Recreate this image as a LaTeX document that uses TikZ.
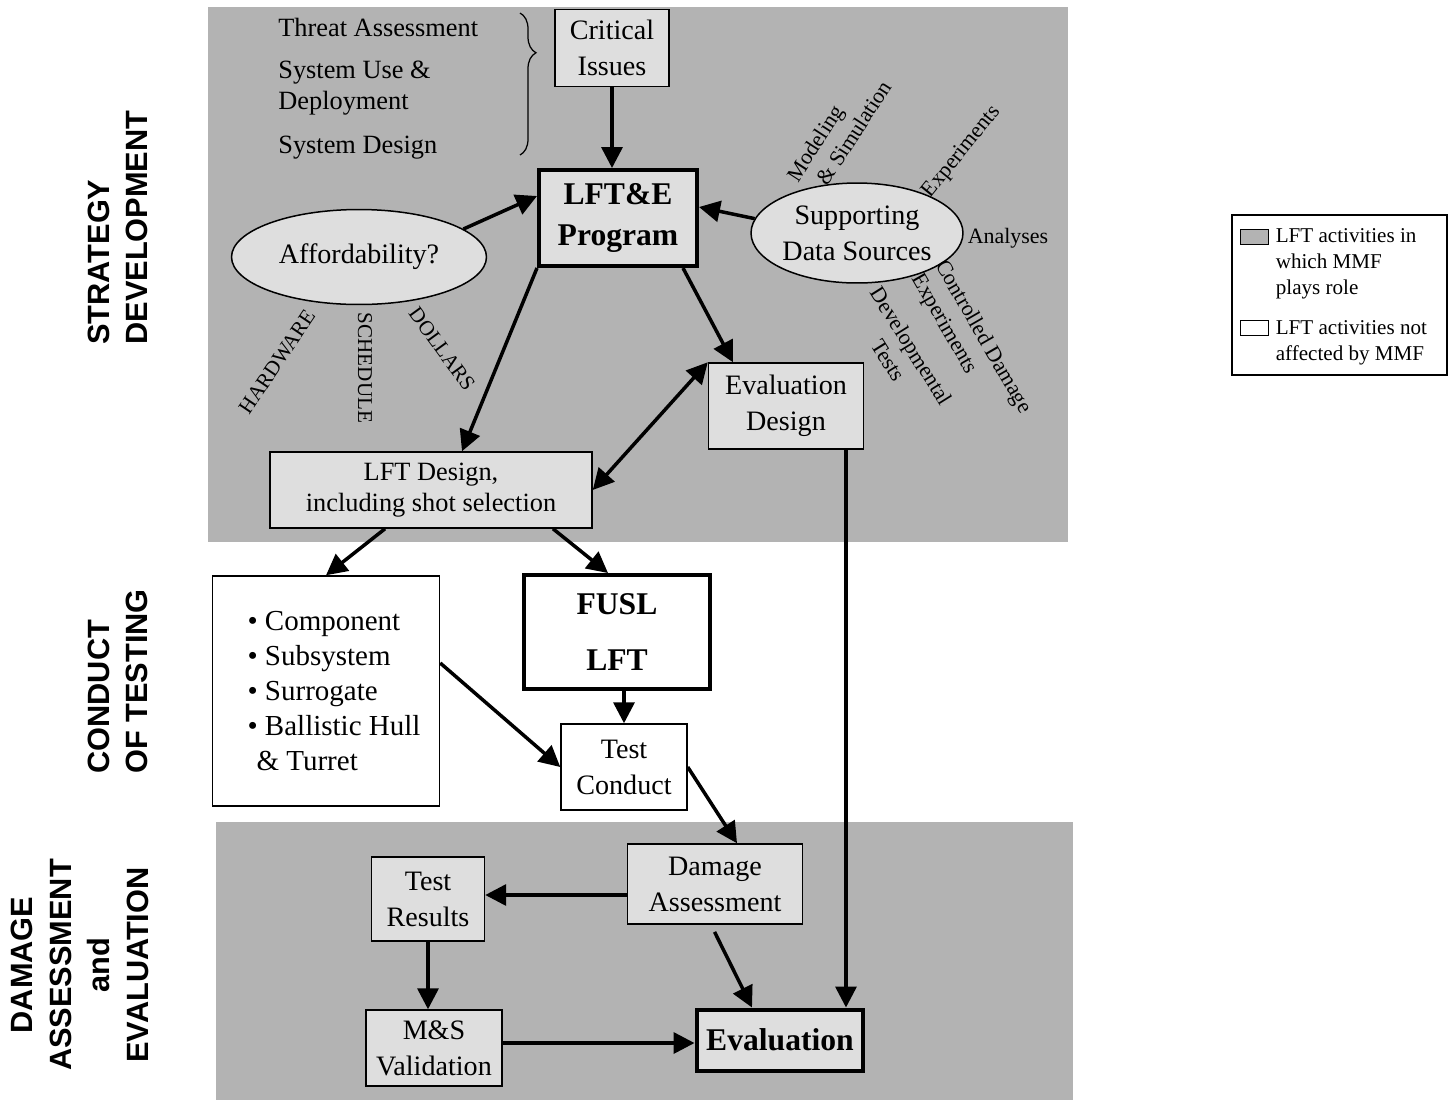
\documentclass[tikz,border=0pt]{standalone}
\usepackage{fontspec}
\setmainfont{Liberation Serif}
\newfontfamily\phasefont{Liberation Sans}
\usetikzlibrary{positioning,shapes.geometric,arrows.meta,decorations.pathreplacing}
\definecolor{panel}{RGB}{179,179,179}
\definecolor{dotfill}{RGB}{222,222,222}
\tikzset{
  box/.style = {draw = black, fill = dotfill, line width = 0.03cm, inner sep = 0pt, align = center, font = \fontsize{16}{20.5}\selectfont},
  plainbox/.style = {box, fill = white},
  heavybox/.style = {box, line width = 0.08cm, font = \fontsize{18}{23}\selectfont\bfseries},
  oval/.style = {box, ellipse},
  arrow/.style = {line width = 0.07cm, -{Triangle[length = 0.42cm, width = 0.42cm]}},
  ray/.style = {font = \fontsize{12.5}{15.4}\selectfont, inner sep = 0pt},
  capsray/.style = {font = \fontsize{12}{14}\selectfont, inner sep = 0pt},
  issue/.style = {font = \fontsize{15}{18}\selectfont, anchor = west, inner sep = 0pt},
  phase/.style = {font = \phasefont\bfseries\fontsize{17.5}{22}\selectfont, rotate = 90, inner sep = 0pt},
  swatch/.style = {draw = black, line width = 0.02cm, minimum width = 0.56cm, minimum height = 0.3cm, inner sep = 0pt},
  legtext/.style = {font = \fontsize{12}{14.8}\selectfont, align = left, inner sep = 0pt}
}
\begin{document}
\begin{tikzpicture}[x = 0.02cm, y = -0.02cm]
\useasboundingbox (0,0) rectangle (1450,1103);
\fill[panel] (208,7) rectangle (1068,542);
\fill[panel] (216,822) rectangle (1073,1100);
\node[phase, anchor = west, align = left] (strat) at (118,345) {STRATEGY\\DEVELOPMENT};
\node[phase, anchor = west, align = left] (cond) at (118,774) {CONDUCT\\OF TESTING};
\node[phase, align = center] (dmg) at (80,965) {DAMAGE\\ASSESSMENT\\and\\EVALUATION};
\node[issue] (threat) at (278,27) {Threat Assessment};
\node[issue, align = left] (use) at (278,88) {System Use \&\\Deployment};
\node[issue] (sysdes) at (278,148) {System Design};
\draw[decorate, decoration = {brace, amplitude = 0.32cm, aspect = 0.28}, line width = 0.025cm] (520,13) -- (520,155);
\node[box, minimum width = 2.28cm, minimum height = 1.54cm] (crit) at (612,48) {Critical\\Issues};
\node[heavybox, minimum width = 3.16cm, minimum height = 1.92cm] (prog) at (618,218) {LFT\&E\\Program};
\node[oval, minimum width = 4.24cm, minimum height = 2cm] (supp) at (857,233) {Supporting\\Data Sources};
\node[oval, minimum width = 5.1cm, minimum height = 1.9cm] (afford) at (359,257) {Affordability?};
\node[box, minimum width = 3.1cm, minimum height = 1.72cm] (evdes) at (786,406) {Evaluation\\Design};
\node[box, minimum width = 6.44cm, minimum height = 1.52cm, font = \fontsize{15}{17.6}\selectfont] (lftdes) at (431,490) {LFT Design,\\including shot selection};
\node[plainbox, minimum width = 4.54cm, minimum height = 4.6cm, align = left, font = \fontsize{16.5}{20}\selectfont] (levels) at (326,691) {• Component\\• Subsystem\\• Surrogate\\• Ballistic Hull\kern-0.32cm\\\hspace*{0.18cm}\& Turret};
\node[heavybox, fill = white, minimum width = 3.72cm, minimum height = 2.28cm] (fusl) at (617,632) {FUSL\\[0.33cm]LFT};
\node[plainbox, minimum width = 2.52cm, minimum height = 1.72cm] (tcond) at (624,767) {Test\\Conduct};
\node[box, minimum width = 3.5cm, minimum height = 1.6cm] (dassess) at (715,884) {Damage\\Assessment};
\node[box, minimum width = 2.26cm, minimum height = 1.68cm] (tres) at (428,899) {Test\\Results};
\node[box, minimum width = 2.72cm, minimum height = 1.52cm] (msval) at (434,1048) {M\&S\\Validation};
\node[heavybox, minimum width = 3.34cm, minimum height = 1.22cm] (eval) at (780,1040) {Evaluation};
\node[ray, rotate = 57, align = left] (model) at (839,131) {Modeling\\\hspace*{0.26cm}\& Simulation};
\node[ray, rotate = 51] (exper) at (962,152) {Experiments};
\node[ray] (anal) at (1008,238) {Analyses};
\node[ray, rotate = -60, align = left] (ctrl) at (971,344) {Controlled Damage\\Experiments};
\node[ray, rotate = -58, align = center] (devt) at (900,353) {Developmental\\Tests};
\node[capsray, rotate = 56] (hw) at (277,362) {HARDWARE};
\node[capsray, rotate = -90] (sched) at (365,368) {SCHEDULE};
\node[capsray, rotate = -54] (dol) at (442,349) {DOLLARS};
\draw[arrow] (crit.south) -- (crit.south |- prog.north);
\draw[arrow] (afford.15) -- ([yshift = 0.44cm]prog.west);
\draw[arrow] (supp.172) -- ([yshift = 0.22cm]prog.east);
\draw[arrow] (prog.south west) -- ([xshift = 0.62cm]lftdes.north);
\draw[arrow] ([xshift = -0.32cm]prog.south east) -- ([xshift = -1.06cm]evdes.north);
\draw[arrow, {Triangle[length = 0.42cm, width = 0.42cm]}-{Triangle[length = 0.42cm, width = 0.42cm]}] (lftdes.east) -- (evdes.north west);
\draw[arrow] ([xshift = -0.92cm]lftdes.south) -- (levels.north);
\draw[arrow] ([xshift = 2.44cm]lftdes.south) -- ([xshift = -0.18cm]fusl.north);
\draw[arrow] (tcond.north |- fusl.south) -- (tcond.north);
\draw[arrow] ([yshift = 0.56cm]levels.east) -- (tcond.west);
\draw[arrow] (tcond.east) -- ([xshift = 0.44cm]dassess.north);
\draw[arrow] ([xshift = 1.2cm]evdes.south) -- ([xshift = 1.2cm]evdes.south |- eval.north);
\draw[arrow] ([yshift = -0.22cm]dassess.west) -- ([yshift = -0.22cm]dassess.west -| tres.east);
\draw[arrow, shorten <= 0.16cm] ([xshift = -0.08cm]dassess.south) -- ([xshift = -0.56cm]eval.north);
\draw[arrow] (tres.south) -- (tres.south |- msval.north);
\draw[arrow] ([yshift = 0.1cm]msval.east) -- ([yshift = 0.1cm]msval.east -| eval.west);
\node[draw = black, line width = 0.04cm, minimum width = 4.3cm, minimum height = 3.2cm, inner sep = 0pt] (legend) at (1339.5,295) {};
\node[swatch, fill = panel] (legA) at (1254,236.5) {};
\node[legtext, right = 0.14cm of legA.north east, anchor = north west] (legAtext) {LFT activities in\\which MMF\\plays role};
\node[swatch, fill = white] (legB) at (1254,328) {};
\node[legtext, right = 0.14cm of legB.north east, anchor = north west] (legBtext) {LFT activities not\\affected by MMF};
\end{tikzpicture}
\end{document}
